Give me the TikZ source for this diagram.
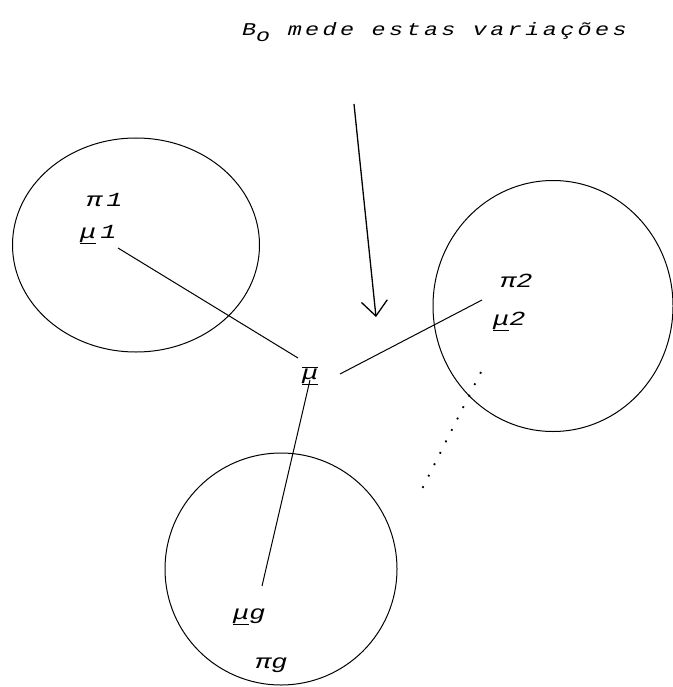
\documentclass[tikz,border=0pt]{standalone}
\usepackage{fontspec}
\newfontfamily\plotfont[LetterSpace=19, FakeStretch=1.3]{Liberation Mono}
\newfontfamily\symfont[FakeStretch=1.35]{Liberation Mono}
\usetikzlibrary{arrows.meta, shapes.geometric}

\begin{document}
\begin{tikzpicture}[x=1pt, y=-1pt,
        pop/.style={ellipse, draw, line width=1pt, inner sep=0pt},
        lbl/.style={anchor=base west, inner sep=0pt,
                    font=\symfont\itshape\fontsize{20}{20}\selectfont},
        lnk/.style={line width=1pt},
        arr/.style={-{Straight Barb[length=15pt, width=26pt]}, line width=1.3pt}]
      \useasboundingbox (0,0) rectangle (672,687);
      % populations
      \node[pop, minimum width=247pt, minimum height=214pt] (pop1) at (136,245) {};
      \node[pop, minimum width=240pt, minimum height=251pt] (pop2) at (553,306) {};
      \node[pop, minimum width=232pt, minimum height=232pt] (popg) at (281,569) {};
      % labels
      \node[lbl, font=\plotfont\itshape\fontsize{18}{18}\selectfont] (titulo) at (242,36)
        {B\raisebox{-6pt}{o} mede estas variações};
      \node[lbl] (pi1) at (86,206) {π\hspace{4pt}1};
      \node[lbl] (mu1) at (80,238) {\underline{μ}\hspace{4pt}1};
      \node[lbl] (pi2) at (500,287) {π2};
      \node[lbl] (mu2) at (493,325) {\underline{μ}2};
      \node[lbl] (mug) at (233,619) {\underline{μ}g};
      \node[lbl] (pig) at (255,668) {πg};
      \node[lbl] (mubar) at (302,379) {$\overline{\underline{\hbox{\symfont\itshape\fontsize{20}{20}\selectfont μ}}}$};
      % ends of the links
      \coordinate (e1) at (118,248);
      \coordinate (b1) at (298,358);
      \coordinate (e2) at (482,300);
      \coordinate (b2) at (340,374);
      \coordinate (eg) at (262,586);
      \coordinate (bg) at (310,380);
      \coordinate (setaini) at (354,104);
      \coordinate (setafim) at (376,317);
      \coordinate (pontoini) at (481,372);
      \coordinate (pontofim) at (421,491);
      \draw[lnk] (e1) -- (b1);
      \draw[lnk] (b2) -- (e2);
      \draw[lnk] (bg) -- (eg);
      \draw[arr] (setaini) -- (setafim);
      \draw[line width=1.8pt, dash pattern=on 1.8pt off 11pt] (pontoini) -- (pontofim);
    \end{tikzpicture}
\end{document}
